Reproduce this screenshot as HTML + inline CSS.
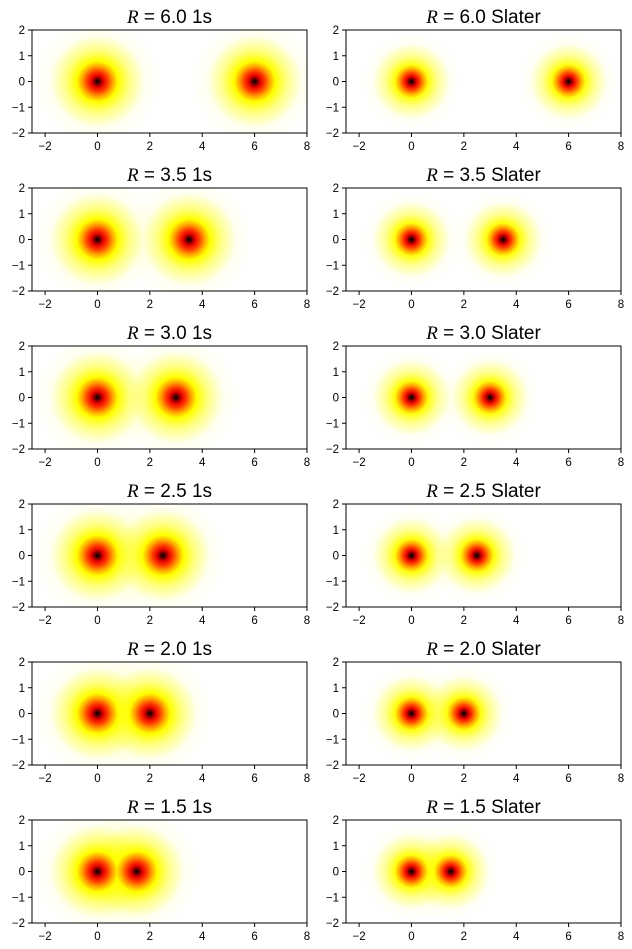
<!DOCTYPE html>
<html><head><meta charset="utf-8"><style>
html,body{margin:0;padding:0;background:#fff;}
svg{display:block;}
text{font-family:"Liberation Sans","DejaVu Sans",sans-serif;}
</style></head><body>
<svg id="s" width="632" height="949" xmlns="http://www.w3.org/2000/svg">
<defs>
<radialGradient id="g1">
<stop offset="0" stop-color="#000"/>
<stop offset="0.035" stop-color="#500000"/>
<stop offset="0.09" stop-color="#e00000"/>
<stop offset="0.16" stop-color="#ff3800"/>
<stop offset="0.24" stop-color="#ffa000"/>
<stop offset="0.33" stop-color="#ffff00"/>
<stop offset="0.5" stop-color="#ffff80"/>
<stop offset="0.75" stop-color="#fffff0"/>
<stop offset="1" stop-color="#ffffff"/>
</radialGradient>
<radialGradient id="g2">
<stop offset="0" stop-color="#000"/>
<stop offset="0.04" stop-color="#500000"/>
<stop offset="0.1" stop-color="#e00000"/>
<stop offset="0.17" stop-color="#ff4000"/>
<stop offset="0.25" stop-color="#ffa800"/>
<stop offset="0.34" stop-color="#ffff10"/>
<stop offset="0.52" stop-color="#ffff90"/>
<stop offset="0.78" stop-color="#fffff4"/>
<stop offset="1" stop-color="#ffffff"/>
</radialGradient>
</defs>
</svg>
<script>
var s=document.getElementById('s'),h='';
var Rs=['6.0','3.5','3.0','2.5','2.0','1.5'];
for(var r=0;r<6;r++){for(var c=0;c<2;c++){
 var L=c?346:32,W=275,T=30+r*158,H=103,ux=W/10.5,uy=H/4;
 var X=function(v){return L+(v+2.5)*ux}, cy=T+H/2, R=parseFloat(Rs[r]);
 var id='c'+r+c;
 h+='<clipPath id="'+id+'"><rect x="'+L+'" y="'+T+'" width="'+W+'" height="'+H+'"/></clipPath>';
 h+='<g clip-path="url(#'+id+')"><rect x="'+L+'" y="'+T+'" width="'+W+'" height="'+H+'" fill="#fff"/>';
 var rad=c?1.9*ux:2.4*ux, g=c?'g2':'g1';
 [0,R].forEach(function(a){h+='<ellipse cx="'+X(a)+'" cy="'+cy+'" rx="'+rad+'" ry="'+(rad*uy/ux)+'" fill="url(#'+g+')" style="mix-blend-mode:multiply"/>';});
 h+='</g><rect x="'+L+'" y="'+T+'" width="'+W+'" height="'+H+'" fill="none" stroke="#000" stroke-width="1"/>';
 for(var t=-2;t<=8;t+=2){var x=X(t);h+='<line x1="'+x+'" x2="'+x+'" y1="'+(T+H)+'" y2="'+(T+H+4)+'" stroke="#000"/><text x="'+x+'" y="'+(T+H+17)+'" font-size="11.5" text-anchor="middle">'+(t<0?'\u2212'+(-t):t)+'</text>';}
 for(var t=-2;t<=2;t++){var y=cy-t*uy;h+='<line x1="'+(L-4)+'" x2="'+L+'" y1="'+y+'" y2="'+y+'" stroke="#000"/><text x="'+(L-7)+'" y="'+(y+4)+'" font-size="11.5" text-anchor="end">'+(t<0?'\u2212'+(-t):t)+'</text>';}
 h+='<text x="'+(L+W/2)+'" y="'+(T-7)+'" font-size="19" text-anchor="middle"><tspan font-style="italic" font-family="Liberation Serif,serif">R</tspan> = '+Rs[r]+' '+(c?'Slater':'1s')+'</text>';
}}
s.insertAdjacentHTML('beforeend',h);
</script>
</body></html>
